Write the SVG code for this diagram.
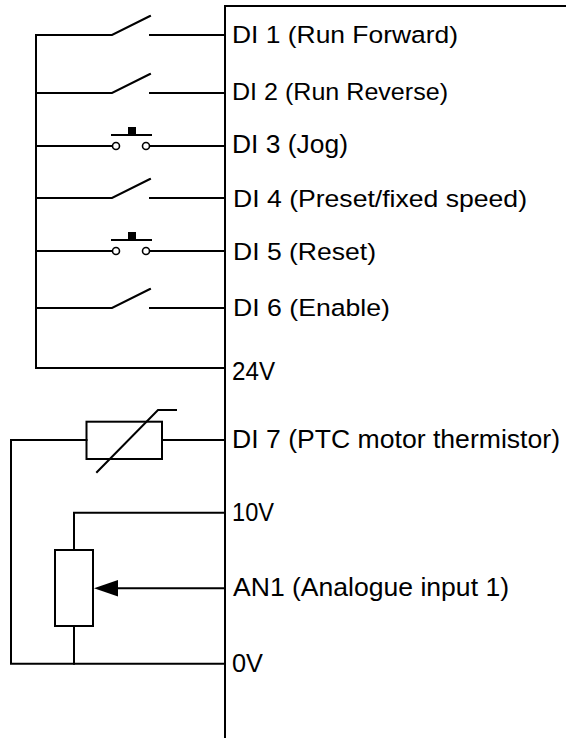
<svg xmlns="http://www.w3.org/2000/svg" width="566" height="738" viewBox="0 0 566 738">
<style>
.w{fill:none;stroke:#000;stroke-width:2;stroke-linecap:square}
.c{fill:#fff;stroke:#000;stroke-width:1.6}
.t{font-family:"Liberation Sans",Arial,sans-serif;fill:#000}
</style>
<defs>
<g id="sw"><path class="w" d="M36,0H112L150,-19M150,0H225"/></g>
<g id="pb"><path class="w" d="M36,0H112.5M149.5,0H225M112,-11H151"/><rect x="128" y="-19" width="8" height="8" fill="#000"/><circle class="c" cx="116" cy="0" r="3.5"/><circle class="c" cx="146" cy="0" r="3.5"/></g>
</defs>
<rect width="566" height="738" fill="#fff"/>
<g id="connectors">
<path class="w" d="M566,6H225V738"/>
<path class="w" d="M36,35V368H225"/>
</g>
<g id="sw1"><use href="#sw" y="35"/></g>
<g id="sw2"><use href="#sw" y="93"/></g>
<g id="pb3"><use href="#pb" y="146"/></g>
<g id="sw4"><use href="#sw" y="198"/></g>
<g id="pb5"><use href="#pb" y="251"/></g>
<g id="sw6"><use href="#sw" y="308"/></g>
<g id="thermistor">
<path class="w" d="M225,440H162M86.5,440H11V663.7H225"/>
<rect class="w" x="86.5" y="421.7" width="75.5" height="37.3"/>
<path class="w" d="M97,472L158,410H176"/>
</g>
<g id="pot">
<path class="w" d="M225,512.7H74V550M74,626V663.7"/>
<rect class="w" x="55" y="550" width="38" height="76"/>
<path class="w" d="M225,588.3H116"/>
<polygon points="94,588.3 118,580 118,596.5" fill="#000"/>
</g>
<g id="labels" class="t">
<text x="232" y="43" font-size="24.5" textLength="226" lengthAdjust="spacingAndGlyphs">DI 1 (Run Forward)</text>
<text x="232" y="100" font-size="24.5" textLength="216" lengthAdjust="spacingAndGlyphs">DI 2 (Run Reverse)</text>
<text x="232" y="153.3" font-size="25" textLength="116" lengthAdjust="spacingAndGlyphs">DI 3 (Jog)</text>
<text x="233" y="207.3" font-size="24.5" textLength="294" lengthAdjust="spacingAndGlyphs">DI 4 (Preset/fixed speed)</text>
<text x="233" y="260" font-size="24.5" textLength="143" lengthAdjust="spacingAndGlyphs">DI 5 (Reset)</text>
<text x="233" y="315.7" font-size="24.5" textLength="157" lengthAdjust="spacingAndGlyphs">DI 6 (Enable)</text>
<text x="232" y="380" font-size="25.5" textLength="43" lengthAdjust="spacingAndGlyphs">24V</text>
<text x="232" y="448.3" font-size="25.5" textLength="328" lengthAdjust="spacingAndGlyphs">DI 7 (PTC motor thermistor)</text>
<text x="232" y="521" font-size="25.5" textLength="42" lengthAdjust="spacingAndGlyphs">10V</text>
<text x="233" y="596" font-size="26" textLength="276" lengthAdjust="spacingAndGlyphs">AN1 (Analogue input 1)</text>
<text x="232" y="672" font-size="25.5" textLength="31" lengthAdjust="spacingAndGlyphs">0V</text>
</g>
</svg>
